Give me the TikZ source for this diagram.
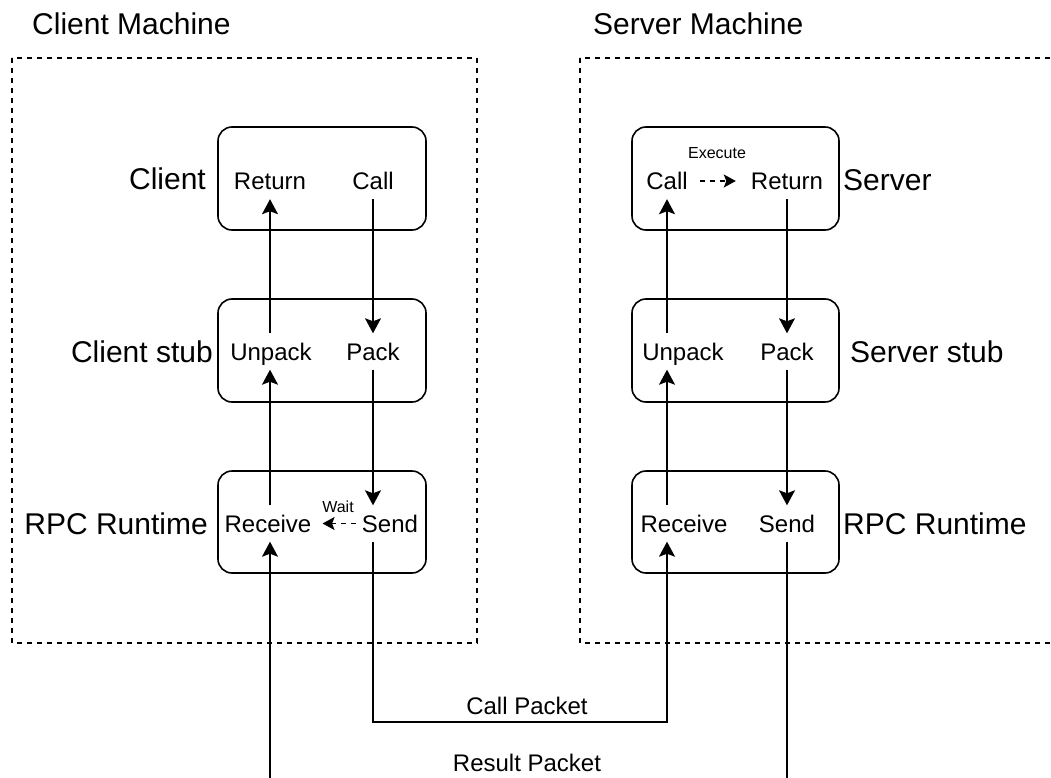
\documentclass[tikz,border=0pt]{standalone}
\usepackage{fontspec}
\setmainfont{Liberation Sans}
\usetikzlibrary{arrows.meta}
\begin{document}
\begin{tikzpicture}[x=1pt,y=-1pt,
  box/.style={draw, line width=1.6pt, rounded corners=14pt},
  frame/.style={draw, line width=1.5pt, dash pattern=on 5pt off 5pt},
  txt/.style={inner sep=0pt, font=\fontsize{24}{28}\selectfont, text height=17.2pt, text depth=0pt, minimum height=36pt},
  big/.style={inner sep=0pt, font=\fontsize{30}{34}\selectfont, text height=21.5pt, text depth=0pt},
  lbl/.style={inner sep=0pt, font=\fontsize{24}{28}\selectfont, text height=17.2pt, text depth=0pt},
  small/.style={inner sep=0pt, font=\fontsize{16}{19}\selectfont, text height=11.5pt, text depth=0pt},
  arr/.style={line width=1.6pt, -{Stealth[length=15pt,width=16pt,inset=3pt]}},
  darr/.style={line width=1.6pt, dash pattern=on 5pt off 5pt, -{Stealth[length=12pt,width=13pt,inset=2.5pt]}},
]
\useasboundingbox (0,0) rectangle (1051,778);
\clip (0,0) rectangle (1051,778);

% machine frames
\path[frame] (12,58) rectangle (477,643);
\path[frame] (580,58) rectangle (1075,643);
\node[big, anchor=west] (cmt) at (32,24) {Client Machine};
\node[big, anchor=west] (smt) at (593,24) {Server Machine};

% layer boxes
\path[box] (218,127) rectangle (426,230);
\path[box] (218,299) rectangle (426,402);
\path[box] (218,471) rectangle (426,573);
\path[box] (632,127) rectangle (839,230);
\path[box] (632,299) rectangle (839,402);
\path[box] (632,471) rectangle (839,573);

% layer labels
\node[big, anchor=east] (lc) at (206,179) {Client};
\node[big, anchor=east] (lcs) at (213,352) {Client stub};
\node[big, anchor=east] (lcr) at (208,523.5) {RPC Runtime};
\node[big, anchor=west] (ls) at (843,180) {Server};
\node[big, anchor=west] (lss) at (850,352) {Server stub};
\node[big, anchor=west] (lsr) at (843,523.5) {RPC Runtime};

% client texts
\node[txt] (cret) at (270,181) {Return};
\node[txt] (ccall) at (373,181) {Call};
\node[txt] (cunp) at (271,351.5) {Unpack};
\node[txt] (cpack) at (373,351.5) {Pack};
\node[txt] (crecv) at (268,523.5) {Receive};
\node[txt] (csend) at (390,523.5) {Send};
\node[small] (wait) at (338,507) {Wait};

% server texts
\node[txt] (scall) at (667,181) {Call};
\node[txt] (sret) at (787,181) {Return};
\node[small] (exec) at (717,153) {Execute};
\node[txt] (sunp) at (683,351.5) {Unpack};
\node[txt] (spack) at (787,351.5) {Pack};
\node[txt] (srecv) at (684,523.5) {Receive};
\node[txt] (ssend) at (787,523.5) {Send};

% packet labels
\node[lbl] (cpl) at (527,706) {Call Packet};
\node[lbl] (rpl) at (527,763) {Result Packet};
\coordinate (cpy) at (0,722);
\coordinate (rpy) at (0,795);

% client arrows
\draw[arr] (ccall) -- (cpack);
\draw[arr] (cpack.south) -- (cpack.south |- csend.north);
\draw[arr] (cret.south |- cunp.north) -- (cret.south);
\draw[arr] (cret.south |- crecv.north) -- (cret.south |- cunp.south);
\draw[darr] ([xshift=-6pt]csend.west) -- ([xshift=11pt]crecv.east);

% server arrows
\draw[arr] (scall.south |- sunp.north) -- (scall.south);
\draw[arr] (scall.south |- srecv.north) -- (scall.south |- sunp.south);
\draw[arr] (sret) -- (spack);
\draw[arr] (spack) -- (ssend);
\draw[darr] ([xshift=12pt]scall.east) -- ([xshift=-15pt]sret.west);

% packets
\draw[arr] (cpack.south |- csend.south) -- (cpack.south |- cpy) -- (scall.south |- cpy) -- (scall.south |- srecv.south);
\draw[arr] (sret.south |- ssend.south) -- (sret.south |- rpy) -- (cret.south |- rpy) -- (cret.south |- crecv.south);
\end{tikzpicture}
\end{document}
